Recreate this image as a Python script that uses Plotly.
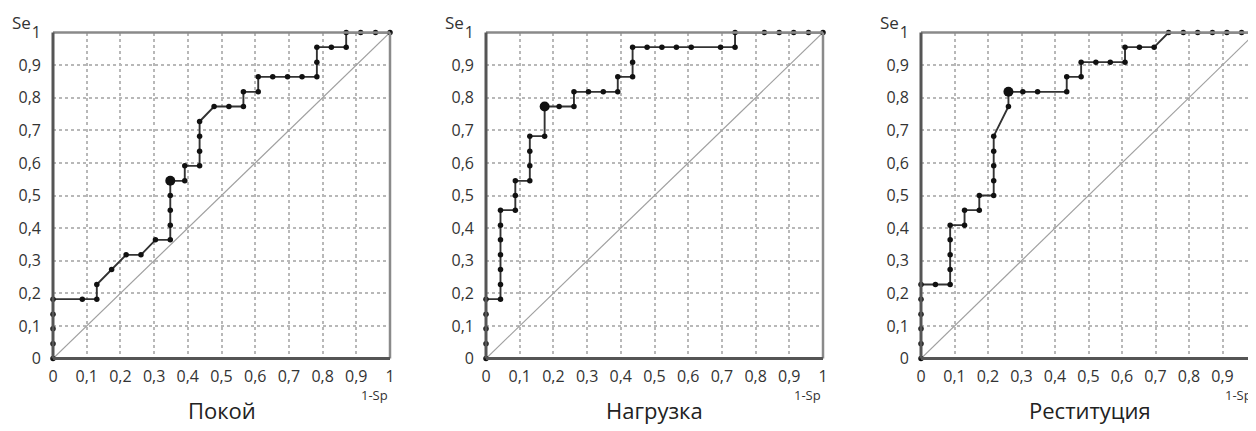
import plotly.graph_objects as go

titles = ["Покой", "Нагрузка", "Реституция"]

# ROC points (1-Sp, Se)
rest_x = [0, 0, 0, 0, 0, 0.087, 0.13, 0.13, 0.174, 0.217, 0.261, 0.304, 0.348, 0.348, 0.348, 0.348, 0.348,
          0.391, 0.391, 0.435, 0.435, 0.435, 0.435, 0.478, 0.522, 0.565, 0.565, 0.609, 0.609, 0.652, 0.696,
          0.739, 0.783, 0.783, 0.783, 0.826, 0.87, 0.87, 0.913, 0.957, 1]
rest_y = [0, 0.045, 0.091, 0.136, 0.182, 0.182, 0.182, 0.227, 0.273, 0.318, 0.318, 0.364, 0.364, 0.409, 0.455, 0.5, 0.545,
          0.545, 0.591, 0.591, 0.636, 0.682, 0.727, 0.773, 0.773, 0.773, 0.818, 0.818, 0.864, 0.864, 0.864,
          0.864, 0.864, 0.909, 0.955, 0.955, 0.955, 1, 1, 1, 1]
rest_opt = (0.348, 0.545)

load_x = [0, 0, 0, 0, 0, 0.043, 0.043, 0.043, 0.043, 0.043, 0.043, 0.043, 0.087, 0.087, 0.087, 0.13, 0.13, 0.13, 0.13,
          0.174, 0.174, 0.217, 0.261, 0.261, 0.304, 0.348, 0.391, 0.391, 0.435, 0.435, 0.435, 0.478, 0.522, 0.565,
          0.609, 0.696, 0.739, 0.739, 0.826, 0.87, 0.913, 0.957, 1]
load_y = [0, 0.045, 0.091, 0.136, 0.182, 0.182, 0.227, 0.273, 0.318, 0.364, 0.409, 0.455, 0.455, 0.5, 0.545, 0.545, 0.591, 0.636, 0.682,
          0.682, 0.773, 0.773, 0.773, 0.818, 0.818, 0.818, 0.818, 0.864, 0.864, 0.909, 0.955, 0.955, 0.955, 0.955,
          0.955, 0.955, 0.955, 1, 1, 1, 1, 1, 1]
load_opt = (0.174, 0.773)

rec_x = [0, 0, 0, 0, 0, 0, 0.043, 0.087, 0.087, 0.087, 0.087, 0.087, 0.13, 0.13, 0.174, 0.174, 0.217, 0.217, 0.217, 0.217, 0.217,
         0.261, 0.261, 0.304, 0.348, 0.435, 0.435, 0.478, 0.478, 0.522, 0.565, 0.609, 0.609, 0.652, 0.696,
         0.739, 0.783, 0.826, 0.87, 0.913, 0.957, 1]
rec_y = [0, 0.045, 0.091, 0.136, 0.182, 0.227, 0.227, 0.227, 0.273, 0.318, 0.364, 0.409, 0.409, 0.455, 0.455, 0.5, 0.5, 0.545, 0.591, 0.636, 0.682,
         0.773, 0.818, 0.818, 0.818, 0.818, 0.864, 0.864, 0.909, 0.909, 0.909, 0.909, 0.955, 0.955, 0.955,
         1, 1, 1, 1, 1, 1, 1]
rec_opt = (0.261, 0.818)

series = [(rest_x, rest_y, rest_opt), (load_x, load_y, load_opt), (rec_x, rec_y, rec_opt)]

tick_vals = [0, 0.1, 0.2, 0.3, 0.4, 0.5, 0.6, 0.7, 0.8, 0.9, 1]
tick_text = ["0", "0,1", "0,2", "0,3", "0,4", "0,5", "0,6", "0,7", "0,8", "0,9", "1"]

# page body has an 8px margin; figure is sized/offset to compensate
OFF = 8
W, H = 1256 - OFF, 431 - OFF
x_pix = [(53, 390), (486, 823), (921, 1256)]
y_top, y_bot = 32.5, 358.5


def px(p):
    return (p - OFF) / W


def py(p):
    return (H - (p - OFF)) / H


ydom = [py(y_bot), py(y_top)]

FONT = "Open Sans"
fig = go.Figure()
for i, (xs, ys, opt) in enumerate(series):
    n = "" if i == 0 else str(i + 1)
    xa, ya = "x" + n, "y" + n
    fig.add_trace(go.Scatter(x=[0, 1], y=[0, 1], mode="lines", line=dict(color="#a0a0a0", width=1.2),
                             xaxis=xa, yaxis=ya, showlegend=False, hoverinfo="skip"))
    fig.add_trace(go.Scatter(x=xs, y=ys, mode="lines+markers",
                             line=dict(color="#333", width=1.9),
                             marker=dict(color="#111", size=5.5),
                             xaxis=xa, yaxis=ya, showlegend=False, cliponaxis=False))
    fig.add_trace(go.Scatter(x=[opt[0]], y=[opt[1]], mode="markers",
                             marker=dict(color="#111", size=10),
                             xaxis=xa, yaxis=ya, showlegend=False))
    x0, x1 = x_pix[i]
    axis_common = dict(range=[0, 1], tickvals=tick_vals, ticktext=tick_text,
                       showgrid=True, gridcolor="#b8b8b8", griddash="dot", gridwidth=1.5,
                       zeroline=False, showline=False, ticks="", automargin=False,
                       tickfont=dict(family=FONT, size=16, color="#333"))
    fig.layout["xaxis" + n] = go.layout.XAxis(domain=[px(x0), min(px(x1), 1)], anchor=ya,
                                               ticklabelstandoff=6, **axis_common)
    fig.layout["yaxis" + n] = go.layout.YAxis(domain=ydom, anchor=xa, ticklabelstandoff=11, **axis_common)
    dx = xa + " domain"
    dy = ya + " domain"
    fig.add_shape(type="line", xref=dx, yref=dy, x0=0, x1=1, y0=1, y1=1, line=dict(color="#8a8a8a", width=2.5))
    fig.add_shape(type="line", xref=dx, yref=dy, x0=1, x1=1, y0=0, y1=1, line=dict(color="#8a8a8a", width=2.5))
    fig.add_shape(type="line", xref=dx, yref=dy, x0=0, x1=0, y0=0, y1=1, line=dict(color="#555", width=3))
    fig.add_shape(type="line", xref=dx, yref=dy, x0=0, x1=1, y0=0, y1=0, line=dict(color="#555", width=3))
    fig.add_annotation(x=px(x0 - 20), y=py(22), xref="paper", yref="paper", text="Se",
                       showarrow=False, xanchor="right", yanchor="middle",
                       font=dict(family=FONT, size=17, color="#333"))
    fig.add_annotation(x=px(min(x1, 1254)), y=py(395), xref="paper", yref="paper", text="1-Sp",
                       showarrow=False, xanchor="right", yanchor="middle",
                       font=dict(family=FONT, size=13, color="#333"))
    fig.add_annotation(x=px(x0 + 337 / 2), y=py(410), xref="paper", yref="paper", text=titles[i],
                       showarrow=False, xanchor="center", yanchor="middle",
                       font=dict(family=FONT, size=22, color="#222"))

fig.update_layout(width=W, height=H, margin=dict(l=0, r=0, t=0, b=0, autoexpand=False),
                  paper_bgcolor="white", plot_bgcolor="white")
fig.write_html("out.html")
